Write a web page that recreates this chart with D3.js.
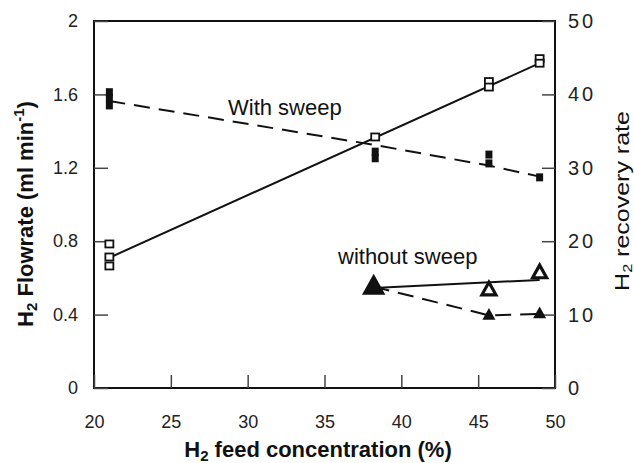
<!DOCTYPE html>
<html><head><meta charset="utf-8">
<script src="https://cdn.jsdelivr.net/npm/d3@7"></script>
<style>body{margin:0;background:#fff}svg{font-family:Arial,"Liberation Sans",sans-serif}</style>
</head><body><svg id="c" width="634" height="463"></svg>
<script>
// X ticks / axis
const xTicks = [20,25,30,35,40,45,50];
const yLeftTicks = [0,0.4,0.8,1.2,1.6,2];
const yLeftLabels = ["0","0.4","0.8","1.2","1.6","2"];
const yRightTicks = [0,10,20,30,40,50];
// With sweep – H2 flowrate (open squares, left axis)
const sweepFlowX = [21.0,21.0,21.0,38.3,45.7,45.7,49.0,49.0];
const sweepFlowY = [0.785,0.714,0.665,1.368,1.67,1.64,1.795,1.77];
const sweepFlowFitX = [21.0,49.0];
const sweepFlowFitY = [0.71,1.77];
// With sweep – recovery rate (filled squares, right axis)
const sweepRecX = [21.0,21.0,21.0,38.3,38.3,45.7,45.7,49.0];
const sweepRecY = [40.3,39.5,38.5,32.2,31.3,31.8,30.6,28.7];
const sweepRecLineX = [21.0,38.3,45.7,49.0];
const sweepRecLineY = [39.1,33.1,30.3,28.8];
// Without sweep – H2 flowrate (open triangles, left axis)
const noSweepFlowX = [38.2,45.7,49.0];
const noSweepFlowY = [0.55,0.534,0.627];
const noSweepFlowFitX = [38.2,49.0];
const noSweepFlowFitY = [0.545,0.589];
// Without sweep – recovery rate (filled triangles, right axis)
const noSweepRecX = [38.2,45.7,49.0];
const noSweepRecY = [13.8,9.9,10.1];

const svg = d3.select("#c");
const L=94,R=555,T=21,B=388;
const x = d3.scaleLinear().domain([20,50]).range([L,R]);
const yL = d3.scaleLinear().domain([0,2]).range([B,T]);
const yR = d3.scaleLinear().domain([0,50]).range([B,T]);
const ink="#111";

// frame
svg.append("rect").attr("x",L).attr("y",T).attr("width",R-L).attr("height",B-T)
  .attr("fill","none").attr("stroke",ink).attr("stroke-width",2);

const xa = svg.append("g").attr("transform",`translate(0,${B})`)
  .call(d3.axisBottom(x).tickValues(xTicks).tickSizeInner(-13).tickSizeOuter(0).tickPadding(27));
const yla = svg.append("g").attr("transform",`translate(${L},0)`)
  .call(d3.axisLeft(yL).tickValues(yLeftTicks).tickFormat((d,i)=>yLeftLabels[i]).tickSizeInner(-14).tickSizeOuter(0).tickPadding(16));
const yra = svg.append("g").attr("transform",`translate(${R},0)`)
  .call(d3.axisRight(yR).tickValues(yRightTicks).tickSizeInner(-13).tickSizeOuter(0).tickPadding(13));
[xa,yla,yra].forEach(g=>{
  g.attr("font-family",null);
  g.select(".domain").remove();
  g.selectAll(".tick line").attr("stroke","#444").attr("stroke-width",1.5);
  g.selectAll("text").attr("fill","#222").attr("font-size",18);
});
yra.selectAll("text").attr("font-size",20).attr("letter-spacing","3px");

// lines
const lineL = d3.line().x(d=>x(d[0])).y(d=>yL(d[1]));
const lineR = d3.line().x(d=>x(d[0])).y(d=>yR(d[1]));
svg.append("path").attr("d",lineL(d3.zip(sweepFlowFitX,sweepFlowFitY)))
  .attr("fill","none").attr("stroke",ink).attr("stroke-width",2);
svg.append("path").attr("d",lineR(d3.zip(sweepRecLineX,sweepRecLineY)))
  .attr("fill","none").attr("stroke",ink).attr("stroke-width",2).attr("stroke-dasharray","16,9");
svg.append("path").attr("d",lineL(d3.zip(noSweepFlowFitX,noSweepFlowFitY)))
  .attr("fill","none").attr("stroke",ink).attr("stroke-width",2);
svg.append("path").attr("d",lineR(d3.zip(noSweepRecX,noSweepRecY)))
  .attr("fill","none").attr("stroke",ink).attr("stroke-width",2).attr("stroke-dasharray","16,9");

// markers
const sq = 8;
svg.append("g").selectAll("rect").data(d3.zip(sweepRecX,sweepRecY)).join("rect")
  .attr("x",d=>x(d[0])-3.5).attr("y",d=>yR(d[1])-4).attr("width",7).attr("height",8).attr("fill",ink);
svg.append("g").selectAll("rect").data(d3.zip(sweepFlowX,sweepFlowY)).join("rect")
  .attr("x",d=>x(d[0])-sq/2).attr("y",d=>yL(d[1])-sq/2+0.5).attr("width",sq).attr("height",sq-1)
  .attr("fill","#fff").attr("stroke",ink).attr("stroke-width",1.8);

const tri = (cx,cy,s)=>{const h=s*0.9;return `M${cx},${cy-h*0.62}L${cx+s/2},${cy+h*0.38}L${cx-s/2},${cy+h*0.38}Z`;};
const triSizes = [18,14,14];
svg.append("g").selectAll("path").data(d3.zip(noSweepFlowX,noSweepFlowY).map((d,i)=>[...d,i])).join("path")
  .attr("d",d=>tri(x(d[0]),yL(d[1]),triSizes[d[2]]))
  .attr("fill",d=>d[2]===0?ink:"#fff").attr("stroke",ink).attr("stroke-width",3.2).attr("stroke-linejoin","miter");
svg.append("g").selectAll("path").data(d3.zip(noSweepRecX,noSweepRecY).map((d,i)=>[...d,i])).join("path")
  .attr("d",d=>tri(x(d[0]),yR(d[1]),d[2]===0?17:13)).attr("fill",ink);

// annotations
svg.append("text").attr("x",228).attr("y",115).attr("font-size",22).attr("fill","#111").text("With sweep");
svg.append("text").attr("x",338).attr("y",264).attr("font-size",22).attr("fill","#111").text("without sweep");

// axis titles
const xt = svg.append("text").attr("x",318).attr("y",457).attr("text-anchor","middle")
  .attr("font-size",22).attr("font-weight","bold").attr("fill","#111");
xt.append("tspan").text("H");
xt.append("tspan").attr("font-size",15).attr("dy",4).text("2");
xt.append("tspan").attr("dy",-4).text(" feed concentration (%)");

const ylt = svg.append("text").attr("transform","translate(33,214) rotate(-90)").attr("text-anchor","middle")
  .attr("font-size",22).attr("font-weight","bold").attr("fill","#111");
ylt.append("tspan").text("H");
ylt.append("tspan").attr("font-size",15).attr("dy",4).text("2");
ylt.append("tspan").attr("dy",-4).text(" Flowrate (ml min");
ylt.append("tspan").attr("font-size",15).attr("dy",-9).text("-1");
ylt.append("tspan").attr("dy",9).text(")");

const yrt = svg.append("text").attr("transform","translate(629,201) rotate(-90) scale(1.25,1)").attr("text-anchor","middle")
  .attr("font-size",20).attr("fill","#111");
yrt.append("tspan").text("H");
yrt.append("tspan").attr("font-size",13).attr("dy",3).text("2");
yrt.append("tspan").attr("dy",-3).text(" recovery rate");
</script></body></html>
